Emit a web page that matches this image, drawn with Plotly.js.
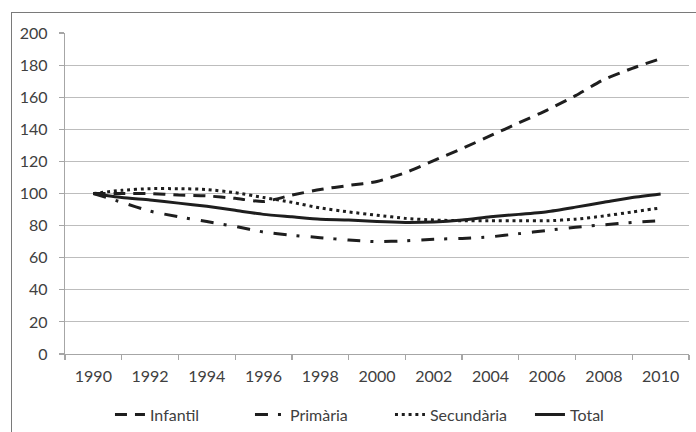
<!DOCTYPE html>
<html>
<head>
<meta charset="utf-8">
<script src="https://cdn.plot.ly/plotly-3.0.1.min.js"></script>
<style>
html,body{margin:0;padding:0;background:#fff;overflow:hidden;}
#chart{width:696px;height:432px;}
#frame{position:absolute;left:11px;top:12px;width:800px;height:600px;border-left:1.5px solid #7a7a7a;border-top:1.5px solid #7a7a7a;pointer-events:none;z-index:10;}
</style>
</head>
<body>
<div id="chart"></div>
<div id="frame"></div>
<script>
const years = [1990,1991,1992,1993,1994,1995,1996,1997,1998,1999,2000,2001,2002,2003,2004,2005,2006,2007,2008,2009,2010];
const infantil   = [100,100,100,99,98.5,97,95,99,102.5,105,107.5,113,120.5,128,136,144,152,161,171,178,184];
const primaria   = [100,94.5,89,85.5,82.5,79.5,76,74,72.5,71,70,70.5,71.5,72,73,75,77,79,80.5,82,83];
const secundaria = [100,102,103,103,102.5,100.5,97.5,94.5,91,88.5,86.5,84.5,83.5,83,83,83,83,84,86,88.5,91];
const total      = [100,97.5,96,94,92,89.5,87,85.5,84,83.5,82.5,82,82.3,83.5,85.5,87,88.7,91.5,94.5,97.5,99.7];
const names = ['Infantil','Primària','Secundària','Total'];
const xTickVals = [1990,1992,1994,1996,1998,2000,2002,2004,2006,2008,2010];
const xMinorVals = [1989,1991,1993,1995,1997,1999,2001,2003,2005,2007,2009,2011];

const lc = '#1e1e1e';
const traces = [
  {x: years, y: infantil, name: names[0], mode: 'lines', line: {color: lc, width: 3, dash: '12px,8px', shape: 'spline', smoothing: 0.6}},
  {x: years, y: primaria, name: names[1], mode: 'lines', line: {color: lc, width: 3, dash: '13px,10px,3px,11px', shape: 'spline', smoothing: 0.6}},
  {x: years, y: secundaria, name: names[2], mode: 'lines', line: {color: lc, width: 3, dash: '3px,3.8px', shape: 'spline', smoothing: 0.6}},
  {x: years, y: total, name: names[3], mode: 'lines', line: {color: lc, width: 3, shape: 'spline', smoothing: 0.6}}
];

const layout = {
  width: 696, height: 432,
  margin: {l: 65, r: 7, t: 33, b: 78},
  paper_bgcolor: '#fff', plot_bgcolor: '#fff',
  font: {family: 'Lato, sans-serif', size: 16, color: '#404040'},
  showlegend: true,
  legend: {orientation: 'h', xref: 'container', yref: 'container', x: 0.158, xanchor: 'left', y: 0.04, yanchor: 'middle', font: {size: 16, color: '#404040'}, entrywidth: 95, entrywidthmode: 'pixels', traceorder: 'normal'},
  xaxis: {
    range: [1989, 2011], tickmode: 'array', tickvals: xTickVals, ticktext: xTickVals.map(String),
    ticks: '', showgrid: false, zeroline: false, showline: true, linecolor: '#a6a6a6', linewidth: 1.2,
    ticklabelstandoff: 8, automargin: false,
    minor: {tickmode: 'array', tickvals: xMinorVals, ticks: 'outside', ticklen: 5, tickcolor: '#a6a6a6', tickwidth: 1.2, showgrid: false}
  },
  yaxis: {
    range: [0, 200], dtick: 20, tick0: 0, ticks: 'outside', ticklen: 5, tickcolor: '#a6a6a6', tickwidth: 1.2,
    showgrid: true, gridcolor: '#bdbdbd', gridwidth: 1.2, zeroline: false, showline: true, linecolor: '#a6a6a6', linewidth: 1.2,
    ticklabelstandoff: 8, automargin: false
  }
};

Plotly.newPlot('chart', traces, layout, {staticPlot: true, displayModeBar: false});
</script>
</body>
</html>
